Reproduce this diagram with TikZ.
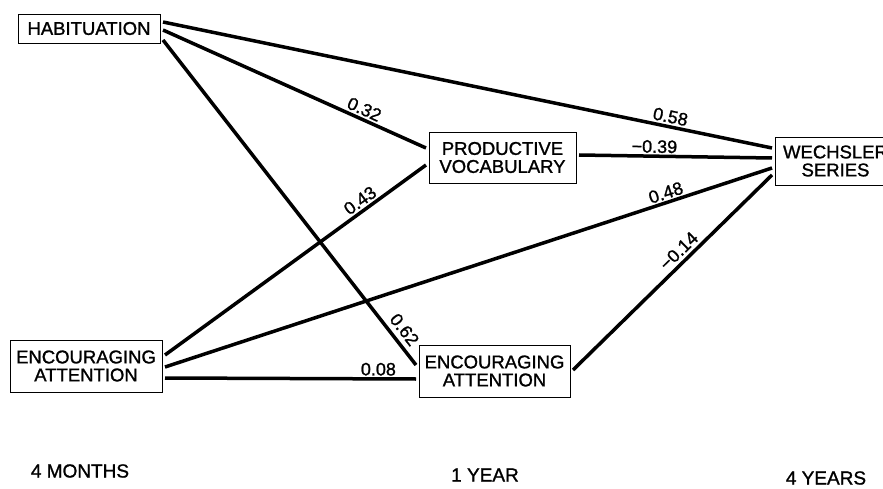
\documentclass[tikz,border=0pt]{standalone}
\usepackage{fontspec}
\setmainfont{Liberation Sans}
\newfontfamily\diagfont{Liberation Sans}[FakeBold=1.2]
\usepackage{tikz}
\usetikzlibrary{positioning}
\tikzset{varbox/.style={rectangle,draw=black,thin,fill=white,align=center,inner sep=0pt,outer sep=3pt,font=\diagfont\fontsize{18.5}{18}\selectfont}}
\tikzset{path/.style={line width=3.5pt,black}}
\tikzset{coef/.style={font=\diagfont\fontsize{18}{18}\selectfont,inner sep=2pt,sloped,above}}
\tikzset{age/.style={font=\diagfont\fontsize{19}{19}\selectfont,inner sep=0pt}}

\begin{document}
\begin{tikzpicture}[x=1pt,y=1pt]
\useasboundingbox (0,0) rectangle (883,488);

 \node[varbox,minimum width=142,minimum height=29] (hab) at (89,459.5) {HABITUATION};
 \node[varbox,minimum width=147,minimum height=51] (prod) at (502.5,330.5) {PRODUCTIVE\\VOCABULARY};
 \node[varbox,minimum width=121,minimum height=48] (wech) at (835.5,327) {WECHSLER\\SERIES};
 \node[varbox,minimum width=152,minimum height=52] (eal) at (86,122) {ENCOURAGING\\ATTENTION};
 \node[varbox,minimum width=151,minimum height=52] (eam) at (494.5,117) {ENCOURAGING\\ATTENTION};

% paths with coefficients
 \draw[path] ([yshift=6.5]hab.east) -- node[coef,pos=.83] {0.58} ([yshift=13]wech.west);
 \draw[path] ([yshift=-1.5]hab.east) -- node[coef,pos=.75] {0.32} ([yshift=9.5]prod.west);
 \draw[path] ([yshift=-11.5]hab.east) -- node[coef,pos=.915,inner sep=4.5pt] {0.62} ([yshift=6]eam.west);
 \draw[path] ([yshift=11]eal.east) -- node[coef,pos=.77] {0.43} ([yshift=-7.5]prod.west);
 \draw[path] ([yshift=-1]eal.east) -- node[coef,pos=.83,inner sep=1.5pt] {0.48} ([yshift=-7]wech.west);
 \draw[path] ([yshift=-12]eal.east) -- node[coef,pos=.85,inner sep=1.5pt] {0.08} ([yshift=-8]eam.west);
 \draw[path] ([yshift=2.5]prod.east) -- node[coef,pos=.39,inner sep=1.5pt] {−0.39} ([yshift=3]wech.west);
 \draw[path] ([yshift=1]eam.east) -- node[coef,pos=.57,inner sep=3pt] {−0.14} ([yshift=-14]wech.west);

 \node[age] (t1) at (80,17) {4 MONTHS};
 \node[age] (t2) at (485,13) {1 YEAR};
 \node[age] (t3) at (826,10) {4 YEARS};

\end{tikzpicture}
\end{document}
